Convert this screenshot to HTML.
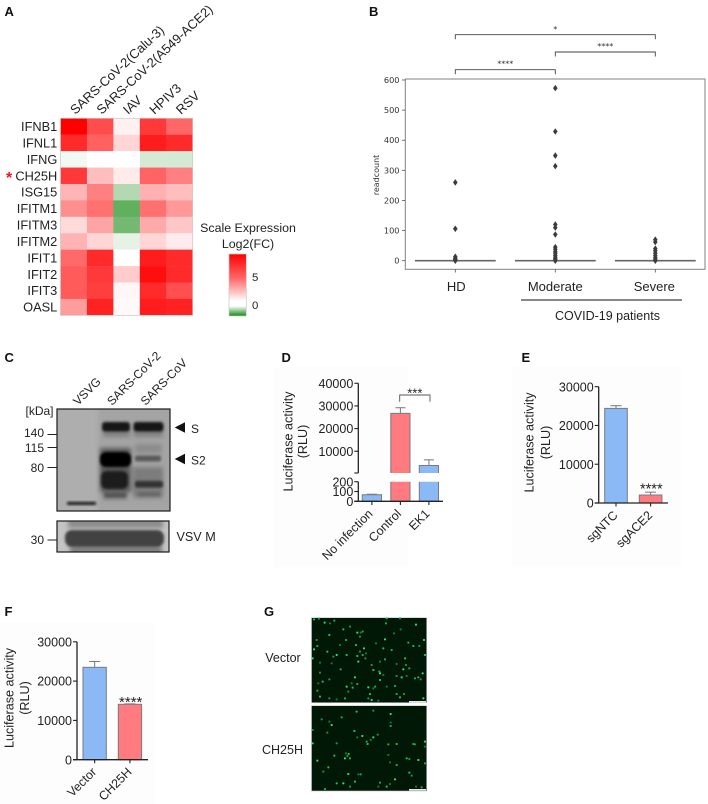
<!DOCTYPE html>
<html lang="en">
<head>
<meta charset="utf-8">
<title>Multi-panel figure</title>
<style>
html,body{margin:0;padding:0;background:#fff;width:708px;height:804px;overflow:hidden}
svg{display:block;font-family:"Liberation Sans",Arial,sans-serif;fill:#1a1a1a;filter:blur(.25px)}
.letter{font-weight:bold;font-size:13px;fill:#111}
.lab{font-size:12.5px;fill:#222}
.dv{font-family:"DejaVu Sans",sans-serif}
</style>
</head>
<body>
<svg id="fig" xmlns="http://www.w3.org/2000/svg" width="708" height="804" viewBox="0 0 708 804">
<defs>
<filter id="b1" x="-30%" y="-60%" width="160%" height="220%"><feGaussianBlur stdDeviation="1.2"/></filter>
<filter id="b2" x="-30%" y="-60%" width="160%" height="220%"><feGaussianBlur stdDeviation="2.2"/></filter>
<clipPath id="blotTopClip"><rect x="57" y="409" width="113" height="102"/></clipPath>
<clipPath id="blotBotClip"><rect x="57" y="521" width="112" height="31"/></clipPath>
<linearGradient id="legendGrad" x1="0" y1="0" x2="0" y2="1">
<stop offset="0" stop-color="#ff0000"/>
<stop offset="0.4" stop-color="#ff6a6a"/>
<stop offset="0.76" stop-color="#ffffff"/>
<stop offset="0.84" stop-color="#ffffff"/>
<stop offset="1" stop-color="#108a10"/>
</linearGradient>
</defs>

<!-- panel letters -->
<text class="letter" x="4.5" y="16">A</text>
<text class="letter" x="369" y="16">B</text>
<text class="letter" x="4.5" y="362">C</text>
<text class="letter" x="281.5" y="362">D</text>
<text class="letter" x="521.5" y="362">E</text>
<text class="letter" x="4.5" y="616">F</text>
<text class="letter" x="264" y="616">G</text>

<!-- A heatmap -->
<g id="heatmap"></g>
<text x="6" y="183" font-size="16" font-weight="bold" style="fill:#f01020">*</text>
<text class="lab" x="248" y="232" text-anchor="middle" font-size="12.4" style="font-size:12.4px">Scale Expression</text>
<text class="lab" x="248" y="248" text-anchor="middle" style="font-size:12.4px">Log2(FC)</text>
<rect x="229" y="254" width="17.3" height="62" fill="url(#legendGrad)" stroke="#c8c8c8" stroke-width=".7"/>
<text class="lab" x="252" y="281" style="font-size:11.4px">5</text>
<text class="lab" x="252" y="309" style="font-size:11.4px">0</text>

<!-- B boxplot -->
<g id="boxplot"></g>
<line x1="521" y1="300" x2="682" y2="300" stroke="#111" stroke-width="1"/>
<text class="lab" x="607.5" y="320" text-anchor="middle" style="font-size:12.5px">COVID-19 patients</text>

<!-- C blot -->
<g>
<rect x="57" y="409" width="113" height="102" fill="#a4a4a4"/>
<g clip-path="url(#blotTopClip)">
<rect x="50" y="405" width="48" height="110" fill="#aeaeae" filter="url(#b2)"/>
<g filter="url(#b2)">
<rect x="103" y="429" width="27" height="8" fill="#808080"/>
<rect x="134" y="429" width="29" height="8" fill="#808080"/>
<rect x="135" y="444" width="27" height="9" fill="#8c8c8c"/>
<rect x="100" y="448" width="31" height="44" fill="#5a5a5a"/>
<rect x="133" y="467" width="30" height="30" fill="#7c7c7c"/>
<rect x="103" y="491" width="24" height="8" fill="#6c6c6c"/>
<rect x="135" y="491" width="27" height="7" fill="#7a7a7a"/>
</g>
<g filter="url(#b1)">
<rect x="102" y="422" width="28" height="9.5" rx="3" fill="#141414"/>
<rect x="133.5" y="422" width="30" height="9.5" rx="3" fill="#141414"/>
<rect x="100" y="452" width="31" height="15" rx="6" fill="#060606"/>
<rect x="101" y="471" width="27" height="18" rx="6" fill="#1e1e1e"/>
<rect x="135" y="455.5" width="26" height="6" rx="2" fill="#5a5a5a"/>
<rect x="135" y="481" width="28" height="6.5" rx="2" fill="#333"/>
<rect x="105" y="493" width="21" height="4" fill="#555"/>
<rect x="138" y="492.5" width="22" height="3.5" fill="#666"/>
</g>
<rect x="67" y="502" width="29" height="2.8" rx="1" fill="#0c0c0c" filter="url(#b1)"/>
</g>
<rect x="57" y="409" width="113" height="102" fill="none" stroke="#1a1a1a" stroke-width="1.2"/>
<rect x="57" y="521" width="112" height="31" fill="#c4c4c4"/>
<g clip-path="url(#blotBotClip)">
<rect x="68" y="518" width="95" height="10" fill="#8c8c8c" filter="url(#b2)"/>
<rect x="70" y="546" width="92" height="8" fill="#7c7c7c" filter="url(#b2)"/>
<rect x="65" y="530" width="99" height="17" rx="7" fill="#424242" filter="url(#b1)"/>
</g>
<rect x="57" y="521" width="112" height="31" fill="none" stroke="#1a1a1a" stroke-width="1.2"/>
</g>
<g font-size="12" style="fill:#222">
<text transform="translate(78,406) rotate(-45)">VSVG</text>
<text transform="translate(112,406) rotate(-45)">SARS-CoV-2</text>
<text transform="translate(145.5,406) rotate(-45)">SARS-CoV</text>
<text x="53.5" y="415" text-anchor="end">[kDa]</text>
<text x="44" y="437" text-anchor="end">140</text>
<text x="44" y="452" text-anchor="end">115</text>
<text x="44" y="472" text-anchor="end">80</text>
<text x="44" y="544" text-anchor="end">30</text>
<text x="191" y="433">S</text>
<text x="191" y="464.5">S2</text>
<text x="176.5" y="541" font-size="12.6">VSV M</text>
</g>
<g stroke="#222" stroke-width="1">
<line x1="47.5" y1="434.5" x2="57" y2="434.5"/>
<line x1="47.5" y1="447.5" x2="57" y2="447.5"/>
<line x1="47.5" y1="467.5" x2="57" y2="467.5"/>
<line x1="47.5" y1="540" x2="57" y2="540"/>
</g>
<polygon points="174.7,427.5 185,422.3 185,432.7" fill="#111"/>
<polygon points="174.7,459 185,453.8 185,464.2" fill="#111"/>

<!-- D/E/F -->
<rect x="273" y="367" width="135" height="200" fill="#fdfdfd"/>
<rect x="512" y="367" width="170" height="200" fill="#fdfdfd"/>
<rect x="0" y="622" width="155" height="182" fill="#fdfdfd"/>
<g id="chartD"></g>
<g id="chartE"></g>
<g id="chartF"></g>

<!-- G micrographs -->
<rect x="311.5" y="617.7" width="115.2" height="85" fill="#021806" stroke="#c4c4c4" stroke-width=".6"/>
<rect x="311.5" y="705.7" width="115.2" height="85.3" fill="#021806" stroke="#c4c4c4" stroke-width=".6"/>
<g id="dots" transform="translate(240,590) scale(0.33333)"></g>
<rect x="409" y="701" width="17" height="1.6" fill="#e8e8e8"/>
<rect x="409" y="789" width="17" height="1.6" fill="#e8e8e8"/>
<text class="lab" x="283" y="662" text-anchor="middle" style="font-size:12.5px">Vector</text>
<text class="lab" x="282.5" y="754" text-anchor="middle" style="font-size:12.5px">CH25H</text>
</svg>

<script>
/* ---------- Panel A data ---------- */
const hmGenes = ['IFNB1','IFNL1','IFNG','CH25H','ISG15','IFITM1','IFITM3','IFITM2','IFIT1','IFIT2','IFIT3','OASL'];
const hmConditions = ['SARS-CoV-2(Calu-3)','SARS-CoV-2(A549-ACE2)','IAV','HPIV3','RSV'];
const hmValues = [
 [9,6.3,0.5,7,5.4],
 [7.5,5.6,1.5,8,7.5],
 [-0.1,0,0,-0.33,-0.33],
 [7,2.3,0.7,5.5,4.5],
 [2.6,4.5,-0.6,2.8,2.3],
 [4,5,-1.25,5,3.6],
 [1.3,3.2,-1.1,3,2],
 [2.7,1.5,-0.2,1.5,0.7],
 [5.3,7.5,0,8,7.5],
 [5.8,7,1.8,8.5,7.5],
 [5.8,6.8,0.3,7.5,6.2],
 [3.5,7.8,0.2,8,7.8]
];
/* ---------- Panel B data ---------- */
const bCategories = ['HD','Moderate','Severe'];
const bMedians = [0,0,0];
const bHdOutliers = [260,106,13,8,5,3,0];
const bModerateOutliers = [573,429,349,314,120,110,87,45,38,30,25,18,12,7,3,0];
const bSevereOutliers = [70,62,40,33,25,17,10,5,0];
const bTicks = [0,100,200,300,400,500,600];
const bSigLabels = ['*','****','****'];
/* ---------- Panel D data ---------- */
const dCategories = ['No infection','Control','EK1'];
const dValues = [67,26700,3700];
const dErrors = [72,29200,6200];
const dUpperTicks = [40000,30000,20000,10000];
const dLowerTicks = [200,100,0];
/* ---------- Panel E data ---------- */
const eCategories = ['sgNTC','sgACE2'];
const eValues = [24400,2060];
const eErrors = [25100,2800];
const eTicks = [30000,20000,10000,0];
/* ---------- Panel F data ---------- */
const fCategories = ['Vector','CH25H'];
const fValues = [23500,14100];
const fErrors = [25000,14200];
const fTicks = [30000,20000,10000,0];
/* ---------- Panel G cell spots ---------- */
const gVectorSpots = [[222,88],[237,86],[254,98],[270,100],[283,92],[440,85],[480,85],[528,104],[482,118],[438,100],[310,118],[330,110],[352,128],[362,128],[368,125],[268,135],[230,150],[222,178],[240,218],[232,168],[262,185],[280,200],[290,195],[300,165],[318,150],[348,165],[360,140],[435,148],[462,130],[505,158],[520,168],[538,168],[552,150],[408,160],[455,180],[430,175],[360,185],[372,175],[378,190],[368,195],[352,198],[376,205],[355,215],[420,215],[435,208],[495,205],[498,225],[490,238],[470,222],[508,235],[555,195],[240,248],[218,205],[275,220],[302,238],[320,195],[395,225],[420,250],[430,255],[418,245],[400,240],[470,258],[485,262],[500,258],[525,265],[535,262],[542,268],[548,250],[235,280],[232,302],[248,275],[268,268],[320,290],[335,280],[352,282],[338,293],[325,305],[385,292],[400,295],[405,290],[390,312],[385,325],[395,330],[415,332],[470,312],[480,322],[492,312],[345,262],[290,328],[315,325],[240,320],[268,325],[550,325],[440,290],[465,288],[420,270]];
const gCh25hSpots = [[245,388],[275,405],[268,395],[305,382],[350,365],[400,362],[452,372],[452,398],[452,408],[343,423],[262,428],[367,438],[352,442],[380,455],[383,462],[413,434],[400,442],[392,450],[445,463],[470,462],[525,463],[555,455],[555,470],[520,462],[326,492],[322,498],[315,505],[318,490],[330,505],[283,497],[290,460],[232,512],[450,517],[470,525],[500,505],[508,507],[535,510],[445,495],[555,520],[265,532],[250,545],[325,552],[355,553],[362,553],[508,548],[515,557],[465,568],[450,582],[420,578],[440,590],[330,590],[310,580],[528,590],[545,592],[290,580],[218,420],[218,460],[415,590],[255,597],[345,575]];

const NS = 'http://www.w3.org/2000/svg';
function mk(parent, tag, attrs, name) {
  const el = document.createElementNS(NS, tag);
  for (const k in attrs) el.setAttribute(k, attrs[k]);
  
  
  parent.appendChild(el);
  return el;
}
function slug(s) { return String(s).toLowerCase().replace(/[^a-z0-9]+/g, '-').replace(/^-|-$/g, ''); }
function txt(parent, s, attrs, name) {
  const el = mk(parent, 'text', attrs, name);
  el.textContent = s;
  return el;
}

/* ---------- heatmap ---------- */
(function () {
  const g = document.getElementById('heatmap');
  const x0 = 60.5, y0 = 118.3, cw = 26.44, ch = 16.42;
  function heatColor(v) {
    if (v >= 0) {
      const c = Math.round(255 * (1 - Math.min(v, 9) / 9));
      return 'rgb(255,' + c + ',' + c + ')';
    }
    const t = Math.min(-v, 2) / 2;
    return 'rgb(' + Math.round(255 * (1 - t)) + ',' + Math.round(255 - 127 * t) + ',' + Math.round(255 * (1 - t)) + ')';
  }
  hmValues.forEach(function (row, r) {
    row.forEach(function (v, c) {
      mk(g, 'rect', { x: x0 + c * cw, y: y0 + r * ch, width: cw + .2, height: ch + .2, fill: heatColor(v) },
        'cell-' + slug(hmGenes[r]) + '-' + slug(hmConditions[c]));
    });
    txt(g, hmGenes[r], { x: 57.3, y: y0 + (r + .5) * ch + 4.5, 'text-anchor': 'end', 'font-size': 12.8, style: 'fill:#222' },
      'row-label-' + slug(hmGenes[r]));
  });
  mk(g, 'rect', { x: x0, y: y0, width: cw * 5, height: ch * 12, fill: 'none', stroke: '#c8c8c8', 'stroke-width': .7 }, 'heatmap-frame');
  hmConditions.forEach(function (n, c) {
    const cx = x0 + (c + .5) * cw + 1.5;
    txt(g, n, { transform: 'translate(' + cx + ',115) rotate(-43)', 'font-size': 13, style: 'fill:#222' },
      'column-label-' + slug(n));
  });
})();

/* ---------- boxplot ---------- */
(function () {
  const g = document.getElementById('boxplot');
  const yB = function (v) { return 260.7 - v * 0.30117; };
  const xB = function (i) { return 455.3 + i * 100; };
  const groups = [bHdOutliers, bModerateOutliers, bSevereOutliers];
  mk(g, 'rect', { x: 405.3, y: 79, width: 299.7, height: 190.3, fill: 'none', stroke: '#808080', 'stroke-width': 1 }, 'plot-frame');
  bTicks.forEach(function (t) {
    mk(g, 'line', { x1: 402, x2: 405.3, y1: yB(t), y2: yB(t), stroke: '#555', 'stroke-width': .8 }, 'y-tick-' + t);
    txt(g, t, { x: 399.5, y: yB(t) + 3, 'text-anchor': 'end', 'font-size': 8.2, class: 'dv', style: 'fill:#333' }, 'y-tick-label-' + t);
  });
  txt(g, 'readcount', { transform: 'translate(379,175) rotate(-90)', 'text-anchor': 'middle', 'font-size': 8, class: 'dv', style: 'fill:#333' }, 'y-axis-title');
  bCategories.forEach(function (c, i) {
    mk(g, 'line', { x1: xB(i), x2: xB(i), y1: 269.3, y2: 272.5, stroke: '#555', 'stroke-width': .8 }, 'x-tick-' + slug(c));
    txt(g, c, { x: xB(i) + [1, 0, -1][i], y: 291, 'text-anchor': 'middle', 'font-size': 13, style: 'fill:#222' }, 'category-label-' + slug(c));
    mk(g, 'line', { x1: xB(i) - 40.4, x2: xB(i) + 40.4, y1: yB(bMedians[i]), y2: yB(bMedians[i]), stroke: '#666', 'stroke-width': 1.6 }, 'median-' + slug(c));
    groups[i].forEach(function (v) {
      const x = xB(i), y = yB(v);
      mk(g, 'polygon', { points: (x - 2.3) + ',' + y + ' ' + x + ',' + (y - 3.3) + ' ' + (x + 2.3) + ',' + y + ' ' + x + ',' + (y + 3.3), fill: '#3c3c3c' }, 'outlier-' + slug(c));
    });
  });
  [[0, 2, 34.7, 32], [1, 2, 52, 49], [0, 1, 69.7, 66.5]].forEach(function (b, i) {
    const a = xB(b[0]), z = xB(b[1]), y = b[2];
    mk(g, 'polyline', { points: a + ',' + (y + 4.5) + ' ' + a + ',' + y + ' ' + z + ',' + y + ' ' + z + ',' + (y + 4.5), fill: 'none', stroke: '#444', 'stroke-width': .9 }, 'significance-bracket');
    txt(g, bSigLabels[i], { x: (a + z) / 2, y: b[3], 'text-anchor': 'middle', 'font-size': 8, class: 'dv', style: 'fill:#333' }, 'significance-label');
  });
})();

/* ---------- shared bar helpers ---------- */
const BLUE = '#8ab9f5', RED = '#ff7b7f';
function yTitleRLU(g, x1, x2, cy) {
  txt(g, 'Luciferase activity', { transform: 'translate(' + x1 + ',' + cy + ') rotate(-90)', 'text-anchor': 'middle', 'font-size': 12.6, style: 'fill:#222' }, 'y-axis-title');
  txt(g, '(RLU)', { transform: 'translate(' + x2 + ',' + cy + ') rotate(-90)', 'text-anchor': 'middle', 'font-size': 12.6, style: 'fill:#222' }, 'y-axis-unit');
}
function simpleBars(g, o) {
  const y = function (v) { return o.y0 - v * o.scale; };
  o.ticks.forEach(function (t) {
    mk(g, 'line', { x1: o.ax - 4, x2: o.ax, y1: y(t), y2: y(t), stroke: '#222', 'stroke-width': 1.1 }, 'y-tick-' + t);
    txt(g, t, { x: o.ax - 5, y: y(t) + 4.6, 'text-anchor': 'end', 'font-size': 12.5, style: 'fill:#222' }, 'y-tick-label-' + t);
  });
  o.cats.forEach(function (c, i) {
    const x = o.barX + i * o.step;
    const cx = x + o.barW / 2;
    mk(g, 'line', { x1: cx, x2: cx, y1: y(o.vals[i]), y2: y(o.errs[i]), stroke: '#777', 'stroke-width': 1 }, 'error-bar-' + slug(c));
    mk(g, 'line', { x1: cx - 5.5, x2: cx + 5.5, y1: y(o.errs[i]), y2: y(o.errs[i]), stroke: '#777', 'stroke-width': 1 }, 'error-cap-' + slug(c));
    mk(g, 'rect', { x: x, y: y(o.vals[i]), width: o.barW, height: o.y0 - y(o.vals[i]), fill: o.colors[i], stroke: '#777b85', 'stroke-width': 1 }, 'bar-' + slug(c));
    mk(g, 'line', { x1: cx, x2: cx, y1: o.y0, y2: o.y0 + 3.5, stroke: '#222', 'stroke-width': 1.1 }, 'x-tick-' + slug(c));
    txt(g, c, { transform: 'translate(' + (cx + 2.5) + ',' + (o.y0 + 13) + ') rotate(-45)', 'text-anchor': 'end', 'font-size': 12.4, style: 'fill:#222' }, 'x-label-' + slug(c));
  });
  mk(g, 'line', { x1: o.ax, x2: o.ax, y1: y(o.ticks[0]), y2: o.y0, stroke: '#222', 'stroke-width': 1.3 }, 'y-axis');
  mk(g, 'line', { x1: o.ax - 4, x2: o.axEnd, y1: o.y0, y2: o.y0, stroke: '#222', 'stroke-width': 1.3 }, 'x-axis');
}

/* ---------- chart D (broken axis) ---------- */
(function () {
  const g = document.getElementById('chartD');
  const ax = 358.3;
  const yUp = function (v) { return 473 - (v - 400) * 0.002266; };
  const yLo = function (v) { return 501.3 - v * 0.098; };
  const colors = [BLUE, RED, BLUE];
  dUpperTicks.forEach(function (t) {
    mk(g, 'line', { x1: ax - 4, x2: ax, y1: yUp(t), y2: yUp(t), stroke: '#222', 'stroke-width': 1.1 }, 'y-tick-' + t);
    txt(g, t, { x: ax - 5, y: yUp(t) + 4.6, 'text-anchor': 'end', 'font-size': 12.5, style: 'fill:#222' }, 'y-tick-label-' + t);
  });
  dLowerTicks.forEach(function (t) {
    mk(g, 'line', { x1: ax - 4, x2: ax, y1: yLo(t), y2: yLo(t), stroke: '#222', 'stroke-width': 1.1 }, 'y-tick-' + t);
    txt(g, t, { x: ax - 5, y: yLo(t) + 4.6, 'text-anchor': 'end', 'font-size': 12.5, style: 'fill:#222' }, 'y-tick-label-' + t);
  });
  mk(g, 'line', { x1: ax - 4, x2: ax, y1: 473, y2: 473, stroke: '#222', 'stroke-width': 1.1 }, 'axis-break-tick');
  dCategories.forEach(function (c, i) {
    const x = 362.3 + i * 28.5, w = 19.2, cx = x + w / 2;
    const v = dValues[i], e = dErrors[i];
    if (v > 200) {
      mk(g, 'line', { x1: cx, x2: cx, y1: yUp(v), y2: yUp(e), stroke: '#777', 'stroke-width': 1 }, 'error-bar-' + slug(c));
      mk(g, 'line', { x1: cx - 5, x2: cx + 5, y1: yUp(e), y2: yUp(e), stroke: '#777', 'stroke-width': 1 }, 'error-cap-' + slug(c));
      mk(g, 'path', { d: 'M' + x + ' 473V' + yUp(v) + 'H' + (x + w) + 'V473', fill: colors[i], stroke: '#777b85', 'stroke-width': 1 }, 'bar-upper-' + slug(c));
      mk(g, 'path', { d: 'M' + x + ' ' + yLo(200) + 'V' + yLo(0) + 'H' + (x + w) + 'V' + yLo(200), fill: colors[i], stroke: '#777b85', 'stroke-width': 1 }, 'bar-lower-' + slug(c));
    } else {
      mk(g, 'line', { x1: cx - 5, x2: cx + 5, y1: yLo(e), y2: yLo(e), stroke: '#777', 'stroke-width': 1 }, 'error-cap-' + slug(c));
      mk(g, 'rect', { x: x, y: yLo(v), width: w, height: yLo(0) - yLo(v), fill: colors[i], stroke: '#777b85', 'stroke-width': 1 }, 'bar-' + slug(c));
    }
    mk(g, 'line', { x1: cx, x2: cx, y1: 501.3, y2: 505, stroke: '#222', 'stroke-width': 1.1 }, 'x-tick-' + slug(c));
    txt(g, c, { transform: 'translate(' + (cx + 1.5) + ',' + 514.5 + ') rotate(-45)', 'text-anchor': 'end', 'font-size': 12.4, style: 'fill:#222' }, 'x-label-' + slug(c));
  });
  mk(g, 'line', { x1: ax, x2: ax, y1: yUp(40000), y2: 473, stroke: '#222', 'stroke-width': 1.3 }, 'y-axis-upper');
  mk(g, 'line', { x1: ax, x2: ax, y1: yLo(200), y2: yLo(0), stroke: '#222', 'stroke-width': 1.3 }, 'y-axis-lower');
  mk(g, 'line', { x1: ax - 4, x2: 443, y1: yLo(0), y2: yLo(0), stroke: '#222', 'stroke-width': 1.3 }, 'x-axis');
  mk(g, 'polyline', { points: '399.7,401.7 399.7,395 430,395 430,401.7', fill: 'none', stroke: '#555', 'stroke-width': .9 }, 'significance-bracket');
  txt(g, '***', { x: 414.8, y: 397.5, 'text-anchor': 'middle', 'font-size': 13, style: 'fill:#222' }, 'significance-label');
  yTitleRLU(g, 292.5, 307, 441.5);
})();

/* ---------- chart E ---------- */
(function () {
  const g = document.getElementById('chartE');
  simpleBars(g, { ax: 598.7, axEnd: 668, y0: 503, scale: .003877, ticks: eTicks, cats: eCategories, vals: eValues, errs: eErrors,
    barX: 604.7, barW: 22.6, step: 34.6, colors: [BLUE, RED] });
  txt(g, '****', { x: 651.3, y: 493.5, 'text-anchor': 'middle', 'font-size': 14.6, style: 'fill:#222' }, 'significance-label');
  yTitleRLU(g, 533.5, 550, 442.5);
})();

/* ---------- chart F ---------- */
(function () {
  const g = document.getElementById('chartF');
  simpleBars(g, { ax: 77, axEnd: 148, y0: 759.7, scale: .00393, ticks: fTicks, cats: fCategories, vals: fValues, errs: fErrors,
    barX: 83, barW: 23.3, step: 35.3, colors: [BLUE, RED] });
  txt(g, '****', { x: 130.7, y: 707, 'text-anchor': 'middle', 'font-size': 15, style: 'fill:#222' }, 'significance-label');
  yTitleRLU(g, 13.5, 29, 698);
})();

/* ---------- micrographs ---------- */
(function () {
  const g = document.getElementById('dots');
  const shades = ['#1fc060', '#149a48', '#2fe078', '#0f7d3a', '#1aae55'];
  gVectorSpots.concat(gCh25hSpots).forEach(function (p, i) {
    mk(g, 'rect', { x: p[0] - 3, y: p[1] - 3, width: 6, height: 6, rx: 2, fill: shades[i % shades.length] }, 'cell-spot');
  });
})();
</script>
</body>
</html>
